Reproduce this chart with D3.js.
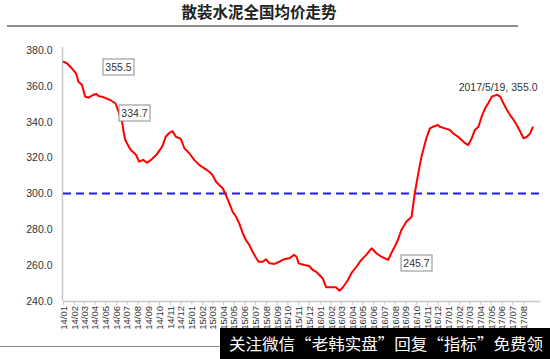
<!DOCTYPE html>
<html><head><meta charset="utf-8">
<script src="https://cdn.jsdelivr.net/npm/d3@7"></script>
<style>body{margin:0;background:#fff;}svg{display:block;font-family:"Liberation Sans",Arial,sans-serif;}</style>
</head><body>
<svg id="c" width="550" height="359"></svg>
<script>
const title = "散装水泥全国均价走势";
const dates = ["2014-01-01","2014-01-12","2014-01-26","2014-02-07","2014-02-14","2014-02-24","2014-03-05","2014-03-15","2014-03-27","2014-04-06","2014-04-12","2014-04-27","2014-05-15","2014-05-30","2014-06-08","2014-06-18","2014-06-22","2014-06-27","2014-07-07","2014-07-13","2014-07-28","2014-08-05","2014-08-17","2014-08-28","2014-09-08","2014-09-23","2014-10-10","2014-10-20","2014-10-30","2014-11-08","2014-11-18","2014-12-02","2014-12-12","2014-12-26","2015-01-09","2015-01-23","2015-02-07","2015-02-21","2015-03-02","2015-03-12","2015-03-21","2015-03-31","2015-04-09","2015-04-19","2015-04-28","2015-05-08","2015-05-17","2015-05-27","2015-06-05","2015-06-15","2015-06-24","2015-07-02","2015-07-11","2015-07-23","2015-08-01","2015-08-11","2015-08-25","2015-09-08","2015-09-22","2015-10-06","2015-10-20","2015-10-27","2015-11-02","2015-11-18","2015-12-02","2015-12-12","2015-12-21","2015-12-31","2016-01-09","2016-01-19","2016-02-02","2016-02-16","2016-02-26","2016-03-07","2016-03-21","2016-03-31","2016-04-14","2016-04-28","2016-05-12","2016-05-27","2016-06-10","2016-06-24","2016-07-13","2016-07-27","2016-08-01","2016-08-10","2016-08-20","2016-09-03","2016-09-18","2016-09-27","2016-10-07","2016-10-16","2016-10-30","2016-11-09","2016-11-18","2016-12-02","2016-12-07","2016-12-22","2017-01-05","2017-01-14","2017-01-28","2017-02-07","2017-02-17","2017-02-26","2017-03-08","2017-03-17","2017-03-27","2017-04-05","2017-04-15","2017-04-24","2017-05-04","2017-05-19","2017-05-28","2017-06-06","2017-06-16","2017-06-25","2017-07-05","2017-07-14","2017-07-24","2017-08-02","2017-08-12","2017-08-21","2017-08-29"];
const prices = [373.6,372.6,369.8,367.0,362.3,360.5,354.0,353.4,354.9,355.5,354.3,353.6,352.1,350.3,345.6,340.0,334.7,329.8,326.1,324.2,321.4,317.7,318.7,317.1,318.7,321.4,326.1,331.6,333.7,334.8,331.6,330.4,325.2,322.4,318.7,315.9,314.0,312.1,310.3,306.5,304.7,302.9,299.1,294.5,289.8,287.0,283.3,277.8,274.0,271.2,267.5,264.7,261.9,261.9,263.3,261.0,260.7,261.9,263.3,263.8,265.7,264.7,261.0,260.1,259.5,257.3,256.4,254.5,252.7,247.7,247.7,247.7,245.7,247.7,251.7,255.5,259.1,262.9,265.7,269.4,266.6,264.7,262.9,268.5,270.3,274.0,279.6,284.2,287.0,300.1,311.2,320.5,330.8,336.3,337.2,338.2,337.2,336.3,335.4,333.5,331.6,329.8,328.0,327.0,330.8,335.4,337.2,342.8,347.5,350.3,354.0,355.0,354.0,350.3,346.5,343.7,341.0,338.2,334.4,330.8,331.6,333.5,337.2];
const yTicks = [240,260,280,300,320,340,360,380];
const refLevel = 300;
const boxNotes = [{date:"2014-04-06", value:355.5}, {date:"2014-06-22", value:334.7}, {date:"2016-02-26", value:245.7}];
const peakNote = {date:"2017-05-19", value:355.0, text:"2017/5/19, 355.0"};
const watermark = "关注微信“老韩实盘”回复“指标”免费领";

const parse = d3.timeParse("%Y-%m-%d");
const data = dates.map((d,i)=>({date:parse(d), value:prices[i]}));
const svg = d3.select("#c");

const x = d3.scaleTime().domain([parse("2014-01-01"), parse("2017-09-18")]).range([63, 540]);
const y = d3.scaleLinear().domain([240, 380]).range([301, 50]);

// title
svg.append("text").attr("x", 259).attr("y", 18).attr("text-anchor","middle")
  .attr("font-family","'Noto Sans CJK SC',sans-serif").attr("font-weight","bold").attr("font-size",15.5).attr("fill","#222").text(title);
svg.append("line").attr("x1",7).attr("x2",518).attr("y1",26).attr("y2",26).attr("stroke","#8c8c8c").attr("stroke-width",2);

// y axis
const yAxis = d3.axisLeft(y).tickValues(yTicks).tickFormat(d3.format(".1f")).tickSize(0).tickPadding(10);
const gy = svg.append("g").attr("transform","translate(62.5,0)").call(yAxis);
gy.select(".domain").attr("stroke","#c8c8c8").attr("stroke-width",1.5).attr("d","M0,47V301");
gy.selectAll("text").attr("font-size",10.5).attr("fill","#333");

// x axis
const months = d3.timeMonth.range(parse("2014-01-01"), parse("2017-08-02"));
const xAxis = d3.axisBottom(x).tickValues(months).tickFormat(d3.timeFormat("%y/%m")).tickSize(4).tickSizeOuter(0);
const gx = svg.append("g").attr("transform","translate(0,301)").call(xAxis);
gx.select(".domain").attr("stroke","#c8c8c8").attr("stroke-width",1.5);
gx.selectAll(".tick line").attr("stroke","#c8c8c8");
gx.selectAll("text").attr("font-size",9.5).attr("fill","#333")
  .attr("transform","rotate(-90)").attr("text-anchor","end").attr("x",-5).attr("y",0).attr("dy","0.35em");

// reference line
svg.append("line").attr("x1",63).attr("x2",540).attr("y1",y(refLevel)).attr("y2",y(refLevel))
  .attr("stroke","#1a1aff").attr("stroke-width",2).attr("stroke-dasharray","8,5");

// price line
svg.append("path").datum(data).attr("fill","none").attr("stroke","#ff0000").attr("stroke-width",2)
  .attr("stroke-linejoin","round")
  .attr("d", d3.line().x(d=>x(d.date)).y(d=>y(d.value)));

// boxed notes
const boxPos = [[103,59],[119,105],[401,255]];
boxNotes.forEach((n,i)=>{
  const g = svg.append("g").attr("transform",`translate(${boxPos[i][0]},${boxPos[i][1]})`);
  g.append("rect").attr("width",31).attr("height",16).attr("fill","#fff").attr("stroke","#8a8a8a").attr("stroke-width",1);
  g.append("text").attr("x",15.5).attr("y",12).attr("text-anchor","middle").attr("font-size",10.5).attr("fill","#333").text(n.value.toFixed(1));
});
svg.append("text").attr("x",x(parse(peakNote.date))+1).attr("y",91).attr("text-anchor","middle")
  .attr("font-size",10.5).attr("fill","#333").text(peakNote.text);

// bottom border and watermark
svg.append("line").attr("x1",0).attr("x2",220).attr("y1",346.5).attr("y2",346.5).attr("stroke","#8c8c8c").attr("stroke-width",1);
svg.append("rect").attr("x",220).attr("y",328).attr("width",330).attr("height",31).attr("fill","#000");
svg.append("text").attr("x",229).attr("y",350).attr("font-family","'Noto Sans CJK SC',sans-serif")
  .attr("font-size",16).attr("textLength",314).attr("lengthAdjust","spacingAndGlyphs").attr("fill","#fff").text(watermark);
</script>
</body></html>
